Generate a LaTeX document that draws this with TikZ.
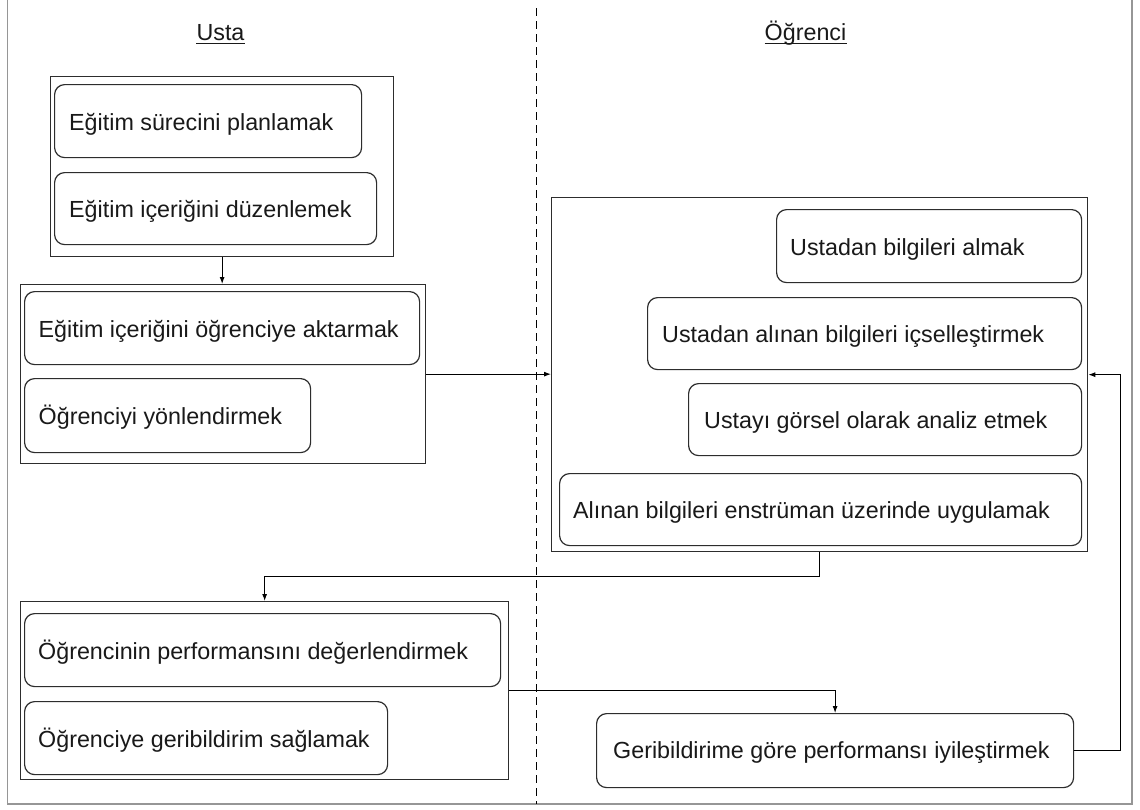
\documentclass[tikz,border=0pt]{standalone}
\usepackage{fontspec}
\setmainfont{Liberation Sans}
\usetikzlibrary{arrows.meta,calc}
\definecolor{framegray}{RGB}{150,150,150}
\definecolor{boxline}{RGB}{45,45,45}
\definecolor{inkc}{RGB}{25,25,25}
\begin{document}
\begin{tikzpicture}[x=1pt,y=-1pt,
  framel/.style={draw=framegray, line width=1.5pt},
  outerbox/.style={draw=boxline, line width=1.3pt, anchor=north west, inner sep=0pt},
  rbox/.style={draw=boxline, line width=1.2pt, rounded corners=10pt, anchor=north west, inner sep=0pt},
  txt/.style={anchor=base west, inner sep=0pt, text=inkc, font=\fontsize{23.3}{28}\selectfont},
  title/.style={anchor=base, inner sep=0pt, text=inkc, font=\fontsize{23.3}{28}\selectfont},
  conn/.style={draw=black, line width=1pt, -{Latex[length=7pt,width=5pt]}},
  divider/.style={draw=black, line width=1pt, dash pattern=on 8pt off 5pt}
]
\useasboundingbox (0,0) rectangle (1140,809);
\fill[white] (0,0) rectangle (1140,809);
% frame
\draw[framel] (7.5,0) -- (7.5,804) -- (1132,804) -- (1132,0);
% divider
\draw[divider] (536,8) -- (536,804);
% titles
\node[title] (usta) at (220.5,40) {Usta};
\node[title] (ogr) at (805.5,40) {Öğrenci};
\draw[draw=inkc, line width=1.3pt] ($(usta.base west)+(0,3.5)$) -- ($(usta.base east)+(0,3.5)$);
\draw[draw=inkc, line width=1.3pt] ($(ogr.base west)+(0,3.5)$) -- ($(ogr.base east)+(0,3.5)$);
% outer boxes
\node[outerbox, minimum width=343pt, minimum height=180pt] (b1) at (50,76) {};
\node[outerbox, minimum width=405pt, minimum height=179pt] (b2) at (20,284) {};
\node[outerbox, minimum width=536pt, minimum height=354pt] (b3) at (551,197) {};
\node[outerbox, minimum width=488pt, minimum height=178pt] (b4) at (20,601) {};
% rounded boxes
\node[rbox, minimum width=307pt, minimum height=73pt] (r1) at (54,84) {};
\node[rbox, minimum width=322pt, minimum height=72pt] (r2) at (54,172) {};
\node[rbox, minimum width=395pt, minimum height=73pt] (r3) at (24,291) {};
\node[rbox, minimum width=286pt, minimum height=74pt] (r4) at (24,378) {};
\node[rbox, minimum width=305pt, minimum height=73pt] (r5) at (776,209) {};
\node[rbox, minimum width=434pt, minimum height=72pt] (r6) at (647,297) {};
\node[rbox, minimum width=393pt, minimum height=72pt] (r7) at (688,383) {};
\node[rbox, minimum width=522pt, minimum height=72pt] (r8) at (559,473) {};
\node[rbox, minimum width=476pt, minimum height=73pt] (r9) at (24,613) {};
\node[rbox, minimum width=363pt, minimum height=73pt] (r10) at (24,701) {};
\node[rbox, minimum width=477pt, minimum height=74pt] (r11) at (596,713) {};
% texts
\node[txt] (t1) at ($(r1.west)+(15,9)$) {Eğitim sürecini planlamak};
\node[txt] (t2) at ($(r2.west)+(15,9)$) {Eğitim içeriğini düzenlemek};
\node[txt] (t3) at ($(r3.west)+(14.5,9)$) {Eğitim içeriğini öğrenciye aktarmak};
\node[txt] (t4) at ($(r4.west)+(14.5,9)$) {Öğrenciyi yönlendirmek};
\node[txt] (t5) at ($(r5.west)+(14,9)$) {Ustadan bilgileri almak};
\node[txt] (t6) at ($(r6.west)+(15,9)$) {Ustadan alınan bilgileri içselleştirmek};
\node[txt] (t7) at ($(r7.west)+(16,9)$) {Ustayı görsel olarak analiz etmek};
\node[txt] (t8) at ($(r8.west)+(14,9)$) {Alınan bilgileri enstrüman üzerinde uygulamak};
\node[txt] (t9) at ($(r9.west)+(14,9)$) {Öğrencinin performansını değerlendirmek};
\node[txt] (t10) at ($(r10.west)+(14,9)$) {Öğrenciye geribildirim sağlamak};
\node[txt] (t11) at ($(r11.west)+(17,8)$) {Geribildirime göre performansı iyileştirmek};
% connectors
\coordinate (loopx) at (1120,0);
\draw[conn] (b1.south) -- (b1.south |- b2.north);
\draw[conn] (b2.east) -- (b2.east -| b3.west);
\draw[conn] (b3.south) -- ($(b3.south)+(0,24)$) -| (b4.north);
\draw[conn] (b4.east) -| (r11.north);
\draw[conn] (r11.east) -| (loopx |- b3.east) -- (b3.east);
\end{tikzpicture}
\end{document}
